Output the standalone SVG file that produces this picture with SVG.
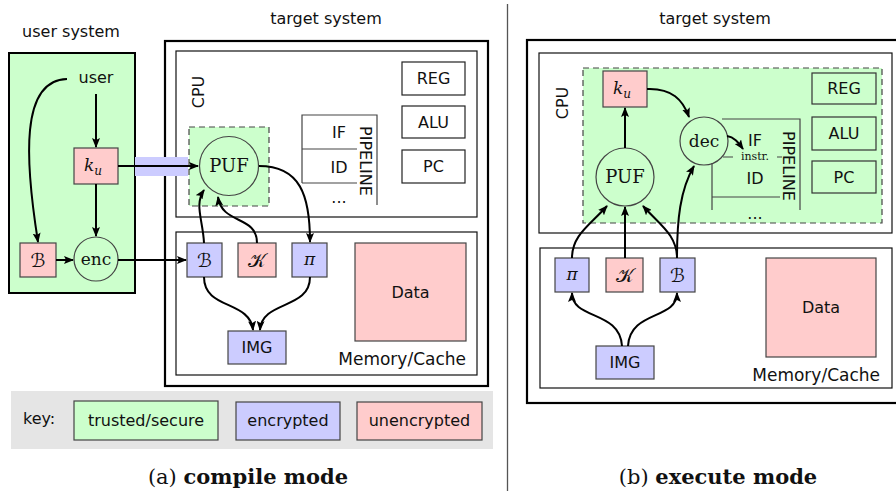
<svg xmlns="http://www.w3.org/2000/svg" width="896" height="491" viewBox="0 0 896 491">
<defs>
<marker id="arr" markerWidth="10" markerHeight="8" refX="9" refY="4" orient="auto" markerUnits="userSpaceOnUse">
<path d="M0,0 L10,4 L0,8 L2,4 z" fill="#000"/>
</marker>
<style>
.sans{font-family:"DejaVu Sans","Liberation Sans",sans-serif;font-size:16px;fill:#111}
.serif{font-family:"DejaVu Serif","Liberation Serif",serif;font-size:17px;fill:#111}
.puf{font-family:"DejaVu Serif","Liberation Serif",serif;font-size:18px;fill:#111}
.mi{font-family:"DejaVu Serif","Liberation Serif",serif;font-style:italic;font-size:17px;fill:#111}
.cal{font-family:"DejaVu Serif","DejaVu Sans","Noto Sans",serif;font-size:19px;fill:#111}
.cap{font-family:"DejaVu Serif","Liberation Serif",serif;font-size:21px;fill:#111}
.outer{fill:none;stroke:#000;stroke-width:2.2}
.frame{fill:none;stroke:#111;stroke-width:1.2}
.g{fill:#ccffcc}
.b{fill:#ccccff}
.p{fill:#ffcccc}
.node{stroke:#444;stroke-width:1.2}
.wbox{fill:#fff;stroke:#222;stroke-width:1.2}
.tbox{fill:none;stroke:#333;stroke-width:1.2}
.dash{fill:#ccffcc;stroke:#444;stroke-width:1.2;stroke-dasharray:6,4}
.pl{stroke:#444;stroke-width:1.2;fill:none}
.c{fill:none;stroke:#000;stroke-width:2;marker-end:url(#arr)}
.m{text-anchor:middle}
</style>
</defs>

<!-- (a) compile mode -->
<g id="a-frames">
<text class="sans m" x="71" y="37">user system</text>
<rect id="user-system" x="9" y="53" width="126" height="240" class="g" stroke="#000" stroke-width="2"/>
<text class="sans m" x="326" y="24">target system</text>
<rect x="165" y="41" width="323" height="345" class="outer"/>
<rect x="176" y="51" width="301" height="166" class="frame"/>
<text class="sans m" transform="translate(204,92) rotate(-90)">CPU</text>
<rect x="176" y="232" width="301" height="143" class="frame"/>
<text class="sans" x="466" y="365" text-anchor="end" style="font-size:17px">Memory/Cache</text>
<rect x="135" y="157" width="53" height="19" fill="#ccccff"/>
<rect x="189" y="127" width="80" height="79" class="dash"/>
</g>

<g id="a-user"><text class="sans m" x="96" y="83">user</text></g>
<g id="a-ku"><rect x="74" y="148" width="44" height="36" class="p node"/><text class="mi m" x="93" y="171">k<tspan dy="4" style="font-size:12px">u</tspan></text></g>
<g id="a-enc"><circle cx="96" cy="259" r="22" class="g node"/><text class="serif m" x="96" y="265">enc</text></g>
<g id="a-B-user"><rect x="20" y="243" width="36" height="34" class="p node"/><text class="cal m" x="38" y="267">ℬ</text></g>
<g id="a-PUF"><circle cx="229" cy="166" r="29.5" class="g node"/><text class="puf m" x="229" y="172">PUF</text></g>
<g id="a-pipeline">
<path class="pl" d="M302,183 V115 H377 V205 M302,149 H357 M302,183 H357"/>
<text class="sans m" x="339" y="138">IF</text>
<text class="sans m" x="339" y="173">ID</text>
<text class="sans m" x="339" y="203">...</text>
<text class="sans m" transform="translate(360,161) rotate(90)">PIPELINE</text>
</g>
<g id="a-REG"><rect x="402" y="62" width="63" height="33" class="wbox"/><text class="sans m" x="433.5" y="84">REG</text></g>
<g id="a-ALU"><rect x="402" y="106" width="63" height="32" class="wbox"/><text class="sans m" x="433.5" y="128">ALU</text></g>
<g id="a-PC"><rect x="402" y="150" width="63" height="33" class="wbox"/><text class="sans m" x="433.5" y="172">PC</text></g>
<g id="a-B"><rect x="187" y="243" width="35" height="34" class="b node"/><text class="cal m" x="204.5" y="267">ℬ</text></g>
<g id="a-K"><rect x="238" y="243" width="38" height="34" class="p node"/><text class="cal m" x="257" y="267">𝒦</text></g>
<g id="a-pi"><rect x="292" y="243" width="35" height="34" class="b node"/><text class="mi m" x="309.5" y="265">π</text></g>
<g id="a-Data"><rect x="355" y="243" width="111" height="98" class="p node"/><text class="sans m" x="410.5" y="298">Data</text></g>
<g id="a-IMG"><rect x="228" y="331" width="58" height="33" class="b node"/><text class="sans m" x="257" y="353">IMG</text></g>

<g id="a-key">
<rect x="11" y="391" width="482" height="58" fill="#e5e5e5"/>
<text class="sans" x="23" y="424">key:</text>
<rect x="74" y="401" width="144" height="39" class="g node"/><text class="sans m" x="146" y="426">trusted/secure</text>
<rect x="236" y="402" width="104" height="38" class="b node"/><text class="sans m" x="288" y="426">encrypted</text>
<rect x="357" y="402" width="125" height="38" class="p node"/><text class="sans m" x="419.5" y="426">unencrypted</text>
</g>
<text class="cap m" x="248" y="484">(a) <tspan font-weight="bold">compile mode</tspan></text>

<g id="a-connectors">
<path class="c" d="M96,94 V147"/>
<path class="c" d="M96,184 V236"/>
<path class="c" d="M67,79 C20,80 25,160 38,242"/>
<path class="c" d="M56,260 H73"/>
<path class="c" d="M118,166 H198"/>
<path class="c" d="M118,260 H186"/>
<path class="c" d="M204,243 C203,220 194,205 204,190"/>
<path class="c" d="M257,243 C257,215 222,225 218,197"/>
<path class="c" d="M259,166 C300,166 310,195 310,242"/>
<path class="c" d="M204,277 C204,310 250,300 253,330"/>
<path class="c" d="M310,277 C310,310 262,300 260,330"/>
</g>

<line x1="507.5" y1="4" x2="507.5" y2="491" stroke="#555" stroke-width="1.3"/>

<!-- (b) execute mode -->
<g id="b-frames">
<text class="sans m" x="715" y="24">target system</text>
<rect x="527" y="40" width="377" height="363" class="outer"/>
<rect x="539" y="53" width="353" height="180" class="frame"/>
<text class="sans m" transform="translate(568,103) rotate(-90)">CPU</text>
<rect x="583" y="68" width="299" height="155" class="dash"/>
<rect x="540" y="248" width="352" height="140" class="frame"/>
<text class="sans" x="880" y="381" text-anchor="end" style="font-size:17px">Memory/Cache</text>
</g>
<g id="b-ku"><rect x="603" y="71" width="44" height="36" class="p node"/><text class="mi m" x="622" y="94">k<tspan dy="4" style="font-size:12px">u</tspan></text></g>
<g id="b-PUF"><circle cx="625" cy="177" r="29" class="g node"/><text class="puf m" x="625" y="183">PUF</text></g>
<g id="b-dec"><circle cx="704" cy="141" r="24" class="g node"/><text class="serif m" x="704" y="147">dec</text></g>
<g id="b-pipeline">
<path class="pl" d="M722,119 H800 V210 M712,163 V210 M712,197 H780 M723,157 H733 M777,157 H782"/>
<text class="serif m" x="755" y="160" style="font-size:11px">instr.</text>
<text class="sans m" x="755" y="146">IF</text>
<text class="sans m" x="755" y="184">ID</text>
<text class="sans m" x="755" y="219">...</text>
<text class="sans m" transform="translate(783,166) rotate(90)">PIPELINE</text>
</g>
<g id="b-REG"><rect x="812" y="73" width="64" height="31" class="tbox"/><text class="sans m" x="844" y="94">REG</text></g>
<g id="b-ALU"><rect x="812" y="117" width="64" height="33" class="tbox"/><text class="sans m" x="844" y="139">ALU</text></g>
<g id="b-PC"><rect x="812" y="161" width="64" height="32" class="tbox"/><text class="sans m" x="844" y="183">PC</text></g>
<g id="b-pi"><rect x="555" y="258" width="34" height="34" class="b node"/><text class="mi m" x="572" y="280">π</text></g>
<g id="b-K"><rect x="606" y="258" width="37" height="34" class="p node"/><text class="cal m" x="624.5" y="282">𝒦</text></g>
<g id="b-B"><rect x="660" y="258" width="35" height="34" class="b node"/><text class="cal m" x="677.5" y="282">ℬ</text></g>
<g id="b-Data"><rect x="766" y="258" width="110" height="99" class="p node"/><text class="sans m" x="821" y="313">Data</text></g>
<g id="b-IMG"><rect x="596" y="346" width="58" height="33" class="b node"/><text class="sans m" x="625" y="368">IMG</text></g>
<text class="cap m" x="718" y="484">(b) <tspan font-weight="bold">execute mode</tspan></text>

<g id="b-connectors">
<path class="c" d="M625,148 V108"/>
<path class="c" d="M647,89 C672,88 683,100 689,117"/>
<path class="c" d="M727,136 C734,137 738,142 743,149"/>
<path class="c" d="M677,258 C677,220 680,190 694,166"/>
<path class="c" d="M677,258 C677,235 660,225 643,206"/>
<path class="c" d="M572,258 C572,235 590,225 607,206"/>
<path class="c" d="M625,258 V207"/>
<path class="c" d="M622,346 C620,310 572,320 572,293"/>
<path class="c" d="M628,346 C630,310 677,320 677,293"/>
</g>
</svg>
